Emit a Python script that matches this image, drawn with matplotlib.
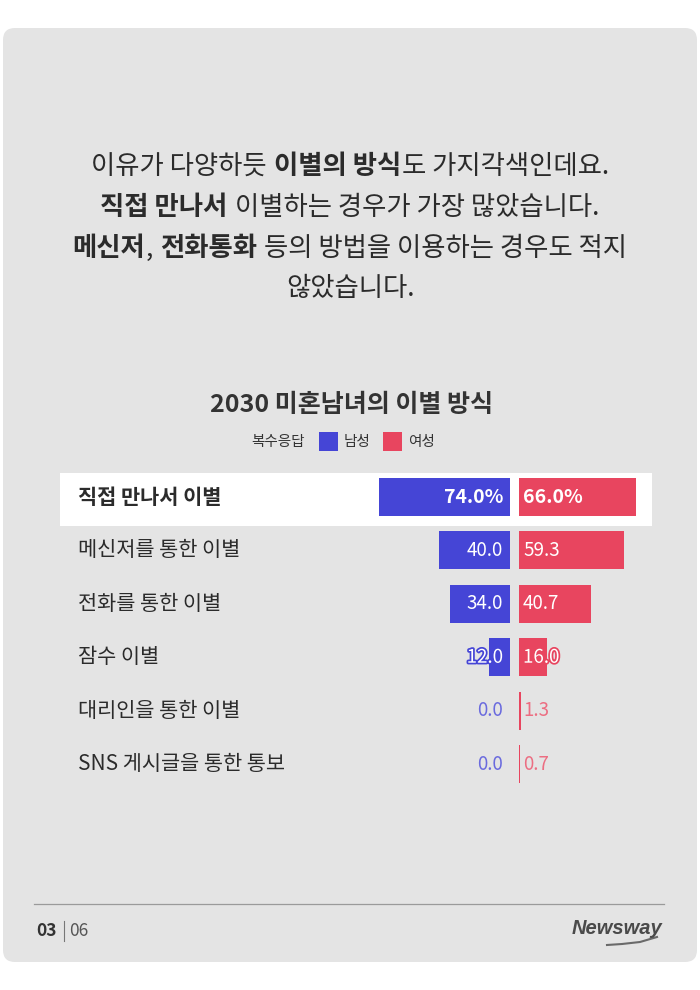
import matplotlib
matplotlib.use("Agg")
import matplotlib.pyplot as plt
from matplotlib.patches import FancyBboxPatch, Rectangle
import matplotlib.patheffects as pe

plt.rcParams['font.family'] = ['Noto Sans CJK KR', 'DejaVu Sans']

# data
categories = ['직접 만나서 이별', '메신저를 통한 이별', '전화를 통한 이별', '잠수 이별',
              '대리인을 통한 이별', 'SNS 게시글을 통한 통보']
male = [74.0, 40.0, 34.0, 12.0, 0.0, 0.0]
female = [66.0, 59.3, 40.7, 16.0, 1.3, 0.7]

intro_lines = [
    [('이유가 다양하듯', False), ('이별의 방식', True), ('도 가지각색인데요.', False)],
    [('직접 만나서', True), ('이별하는 경우가 가장 많았습니다.', False)],
    [('메신저', True), (',', False), ('전화통화', True), ('등의 방법을 이용하는 경우도 적지', False)],
    [('않았습니다.', False)],
]
intro_gaps = [[True, False], [True], [False, True, True], []]

title = '2030 미혼남녀의 이별 방식'
legend_note = '복수응답'
series_names = ['남성', '여성']

BLUE = '#4545d6'
RED = '#e8455f'
TXT = '#2b2b2b'
LIGHT = 300
W, H = 700, 990
PX = 1.77  # pixels per percent point

fig = plt.figure(figsize=(7, 9.9), dpi=100)
fig.patch.set_facecolor('white')

bg = fig.add_axes([0, 0, 1, 1])
bg.set_xlim(0, W)
bg.set_ylim(H, 0)
bg.axis('off')

card = FancyBboxPatch((3, 28), 694, 934, boxstyle='round,pad=0,rounding_size=12',
                      facecolor='#e4e4e4', edgecolor='none')
bg.add_patch(card)

# intro text, mixed weights, centred
renderer = fig.canvas.get_renderer()
size = 19
space = size * 100 / 72 * 0.28
for i, (parts, gaps) in enumerate(zip(intro_lines, intro_gaps)):
    y = 167 + i * 40.5
    texts = []
    for s, b in parts:
        texts.append(bg.text(0, y, s, fontsize=size, fontweight='bold' if b else LIGHT,
                             color=TXT, ha='left', va='center'))
    widths = [t.get_window_extent(renderer).width for t in texts]
    total = sum(widths) + space * sum(gaps)
    x = W / 2 - total / 2
    for j, t in enumerate(texts):
        t.set_x(x)
        x += widths[j]
        if j < len(gaps) and gaps[j]:
            x += space

# title and legend
bg.text(351, 405, title, fontsize=18, fontweight='bold', color='#333333',
        ha='center', va='center')
bg.text(305, 442, legend_note, fontsize=10.5, color='#333333', ha='right', va='center')
bg.add_patch(Rectangle((319, 432), 19, 19, facecolor=BLUE, edgecolor='none'))
bg.text(344, 442, series_names[0], fontsize=10.5, color='#333333', ha='left', va='center')
bg.add_patch(Rectangle((383, 432), 19, 19, facecolor=RED, edgecolor='none'))
bg.text(408, 442, series_names[1], fontsize=10.5, color='#333333', ha='left', va='center')

# highlight row
bg.add_patch(Rectangle((60, 473), 592, 53, facecolor='white', edgecolor='none'))

# rows
top, step = 470.3, 53.4
n = len(categories)
bottom = top + step * n
for i, c in enumerate(categories):
    bg.text(78, top + step * (i + 0.5), c, fontsize=15,
            fontweight='bold' if i == 0 else LIGHT, color=TXT, ha='left', va='center')

left_px, mid_l, mid_r, right_px = 330, 510, 519, 660
ax_m = fig.add_axes([left_px / W, 1 - bottom / H, (mid_l - left_px) / W, (bottom - top) / H])
ax_f = fig.add_axes([mid_r / W, 1 - bottom / H, (right_px - mid_r) / W, (bottom - top) / H])
ys = list(range(n))
ax_m.barh(ys, male, height=0.71, color=BLUE)
ax_f.barh(ys, female, height=0.71, color=RED)
ax_m.set_xlim((mid_l - left_px) / PX, 0)
ax_f.set_xlim(0, (right_px - mid_r) / PX)
for ax in (ax_m, ax_f):
    ax.set_ylim(n - 0.5, -0.5)
    ax.axis('off')
    ax.patch.set_alpha(0)


def fmt(i, v):
    return f'{v:.1f}%' if i == 0 else f'{v:.1f}'


for i, (m, f) in enumerate(zip(male, female)):
    w = 'bold' if i == 0 else LIGHT
    fs = 14 if i == 0 else 13.5
    for ax, v, col, xpos, ha in ((ax_m, m, BLUE, 7 / PX, 'right'), (ax_f, f, RED, 4 / PX, 'left')):
        if v >= 20:
            ax.text(xpos, i, fmt(i, v), color='white', fontsize=fs, fontweight=w, ha=ha, va='center')
        elif v >= 5:
            t = ax.text(xpos, i, fmt(i, v), color='white', fontsize=fs, fontweight=w, ha=ha, va='center')
            t.set_path_effects([pe.withStroke(linewidth=2.5, foreground=col)])
        else:
            light = '#6a6ade' if col == BLUE else '#ec6e82'
            ax.text(xpos, i, fmt(i, v), color=light, fontsize=fs, fontweight=w, ha=ha, va='center')

# footer
bg.plot([34, 664], [904, 904], color='#9a9a9a', lw=0.9)
bg.text(36, 931, '03', fontsize=12.5, fontweight='bold', color='#333333', ha='left', va='center')
bg.plot([64, 64], [921, 941], color='#777777', lw=0.8)
bg.text(69, 931, '06', fontsize=12.5, fontweight=LIGHT, color='#555555', ha='left', va='center')
bg.text(662, 929, 'Newsway', fontsize=14.5, fontweight='bold', fontstyle='italic',
        family='Liberation Sans', color='#4a4a4a', ha='right', va='center')
bg.plot([607, 622, 640, 657], [945, 944, 942, 937], color='#6a6a6a', lw=1.5)

fig.savefig('out.png', dpi=100, facecolor='white')
